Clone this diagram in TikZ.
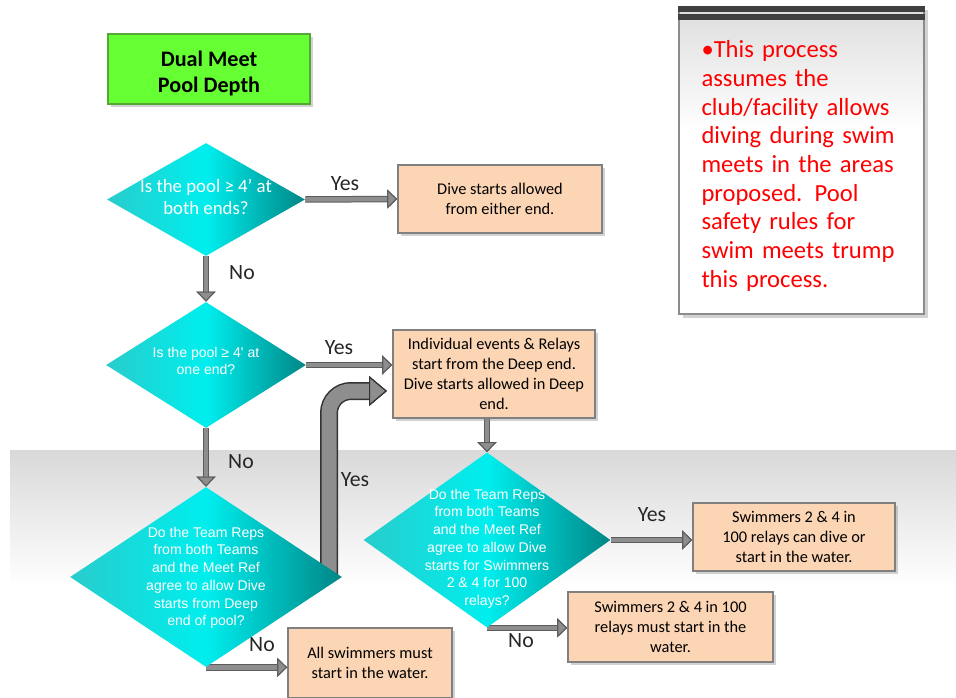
\documentclass[tikz,border=0pt]{standalone}
\usepackage{fontspec}
\setmainfont{Carlito}
\newfontfamily\arialfont{Liberation Sans}
\usetikzlibrary{shapes.geometric,arrows.meta,shadows}

\definecolor{peach}{HTML}{FCD5B5}
\definecolor{leafgreen}{HTML}{66FF33}
\definecolor{leafedge}{HTML}{52A832}
\definecolor{poolleft}{HTML}{29CCCC}
\definecolor{poolcyan}{HTML}{00EEEE}
\definecolor{pooldeep}{HTML}{008686}
\definecolor{shaftgray}{HTML}{8E8E8E}
\definecolor{shaftedge}{HTML}{5C5C5C}
\definecolor{notered}{HTML}{FF0000}

\pgfdeclarelayer{back}
\pgfdeclarelayer{flow}
\pgfsetlayers{back,flow,main}

% grey at the top of the note, white from the middle down
\pgfdeclareverticalshading{notefade}{100bp}{color(0bp)=(white); color(55bp)=(white); color(100bp)=(black!30)}

% question text takes no room, so the diamond keeps its own size
\newcommand{\qtext}[2][0pt]{\makebox[0pt]{\smash{\raisebox{#1}{\begin{tabular}{@{}c@{}}#2\end{tabular}}}}}

\tikzset{
  titlebox/.style={draw=leafedge, line width=1.2pt, fill=leafgreen, minimum width=4.04cm, minimum height=1.4cm,
    align=center, font=\bfseries\fontsize{12.6}{14.8}\selectfont,
    drop shadow={shadow xshift=0.06cm, shadow yshift=-0.06cm, opacity=0.35}},
  question/.style={shape=diamond, inner sep=0pt, left color=poolleft, right color=pooldeep, middle color=poolcyan, text=white},
  outcome/.style={draw=black!50, line width=0.9pt, fill=peach, inner sep=2pt, align=center,
    font=\fontsize{9.3}{11.3}\selectfont,
    drop shadow={shadow xshift=0.06cm, shadow yshift=-0.06cm, opacity=0.35}},
  answer/.style={font=\fontsize{12.4}{14}\selectfont, text=black!85},
  notebox/.style={draw=black!45, line width=0.6pt, shading=notefade,
    minimum width=4.9cm, minimum height=6.14cm, text width=4cm, align=left, text=notered,
    font=\fontsize{14}{16.3}\selectfont,
    drop shadow={shadow xshift=0.07cm, shadow yshift=-0.07cm, opacity=0.35}},
  flowline/.style={draw=shaftgray, line width=0.09cm,
    -{Triangle[width=0.38cm, length=0.2cm, fill=shaftgray, color=shaftedge, line width=0.6pt]},
    preaction={draw=shaftedge, line width=0.13cm}},
  bigflow/.style={draw=shaftgray, line width=0.3cm, rounded corners=0.44cm,
    -{Triangle[width=0.6cm, length=0.36cm, fill=shaftgray, color=black!80, line width=0.7pt]},
    preaction={draw=black!80, line width=0.36cm}}
}

\begin{document}
\begin{tikzpicture}[x=0.2mm, y=-0.2mm]
  \useasboundingbox (0,0) rectangle (956,698);
  \begin{pgfonlayer}{back}
    \fill[white] (0,0) rectangle (956,698);
    \shade[top color=black!15, bottom color=white] (10,450) rectangle (956,585);
  \end{pgfonlayer}

  % note
  \node[notebox] (note) at (801.5,160.5) {\rule{0pt}{16pt}•This process\\assumes the\\club/facility allows\\diving during swim\\meets in the areas\\proposed.  Pool\\safety rules for\\swim meets trump\\this process.};
  \fill[black!75] (note.north west) rectangle ([yshift=-0.12cm]note.north east);
  \fill[black!75] ([yshift=-0.16cm]note.north west) rectangle ([yshift=-0.28cm]note.north east);

  \node[titlebox] (title) at (209,69) {\rule{0pt}{13.5pt}Dual Meet\\Pool Depth};

  \node[question, minimum width=3.96cm, minimum height=2.26cm, font=\fontsize{10.7}{12.5}\selectfont] (d1) at (206,199.5)
    {\qtext[-2.4pt]{Is the pool ≥ 4’ at\\both ends?}};
  \node[outcome, minimum width=4.08cm, minimum height=1.36cm] (b1) at (500,199) {Dive starts allowed\\from either end.};

  \node[question, minimum width=4cm, minimum height=2.52cm, font=\arialfont\fontsize{8}{10.1}\selectfont] (d2) at (206,365)
    {\qtext[-0.5pt]{Is the pool ≥ 4\textquotesingle{} at\\one  end?}};
  \node[outcome, minimum width=4.04cm, minimum height=1.76cm] (b2) at (494,374) {Individual events \& Relays\\start from the Deep end.\\Dive starts allowed in Deep\\end.};

  \node[question, minimum width=5.44cm, minimum height=3.6cm, font=\arialfont\fontsize{8}{10.1}\selectfont] (d3) at (206,577)
    {\qtext[-2.5pt]{Do the Team Reps\\from both Teams\\and the Meet Ref\\agree to allow Dive\\starts from Deep\\end of pool?}};
  \node[outcome, minimum width=3.28cm, minimum height=1.4cm] (b3) at (370,663) {All swimmers must\\start in the water.};

  \node[question, minimum width=4.94cm, minimum height=3.5cm, font=\arialfont\fontsize{8}{10.1}\selectfont] (d4) at (487,540)
    {\qtext[-7pt]{Do the Team Reps\\from both Teams\\and the Meet Ref\\agree to allow Dive\\starts for Swimmers\\2 \& 4 for 100\\relays?}};
  \node[outcome, minimum width=4.04cm, minimum height=1.36cm] (b4) at (794,537) {Swimmers 2 \& 4 in\\100 relays can dive or\\start in the water.};
  \node[outcome, minimum width=4.1cm, minimum height=1.4cm] (b5) at (670.5,627) {Swimmers 2 \& 4 in 100\\relays must start in the\\water.};

  \coordinate (bigtip) at (387,391);

  \node[answer] (yes1) at (345,184) {Yes};
  \node[answer] (no1) at (242,273) {No};
  \node[answer] (yes2) at (339,348) {Yes};
  \node[answer] (no2) at (241,462) {No};
  \node[answer] (yes3) at (355,480) {Yes};
  \node[answer] (no3) at (262,645) {No};
  \node[answer] (yes4) at (652,515) {Yes};
  \node[answer] (no4) at (521,641) {No};

  \begin{pgfonlayer}{flow}
    \draw[flowline] (d1.east) -- (b1.west);
    \draw[flowline] (d1.south) -- (d2.north);
    \draw[flowline] (d2.east) -- (d2.east -| b2.west);
    \draw[flowline] (d2.south) -- (d3.north);
    \draw[bigflow] (d3.center) ++(123,0) |- (bigtip);
    \draw[flowline] (d3.south) -- (d3.south -| b3.west);
    \draw[flowline] (b2.south -| d4.north) -- (d4.north);
    \draw[flowline] (d4.east) -- (d4.east -| b4.west);
    \draw[flowline] (d4.south) -- (d4.south -| b5.west);
  \end{pgfonlayer}
\end{tikzpicture}
\end{document}
